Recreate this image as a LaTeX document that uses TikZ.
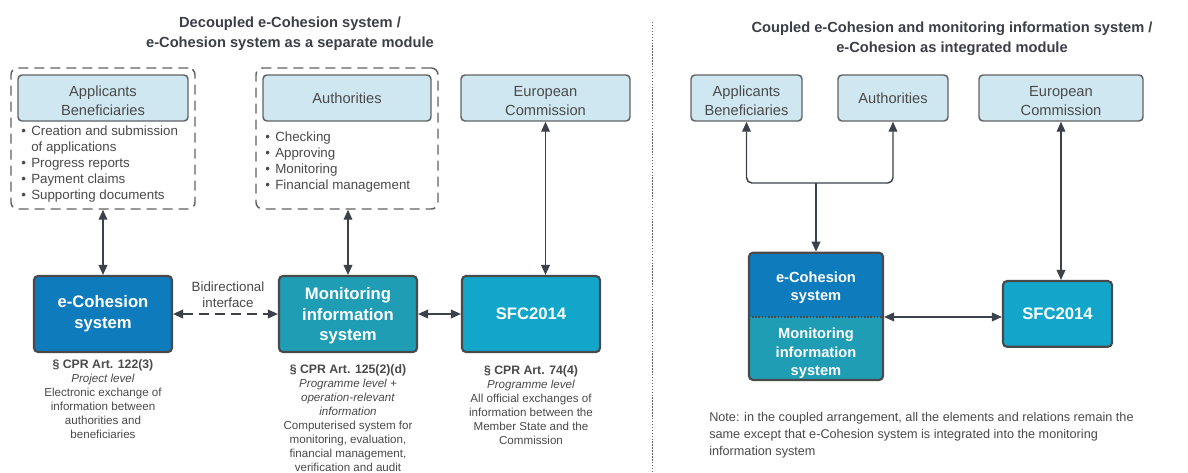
\documentclass[tikz,border=0pt]{standalone}
\usepackage{fontspec}
\setmainfont{Liberation Sans}
\usetikzlibrary{arrows.meta,fit,positioning}

\definecolor{txtgray}{HTML}{4A4A4A}
\definecolor{titlegray}{HTML}{3A3F48}
\definecolor{lineg}{HTML}{626262}
\definecolor{darkline}{HTML}{4A4A4A}
\definecolor{lightblue}{HTML}{CFE7F0}
\definecolor{ecohblue}{HTML}{0E7BBD}
\definecolor{monteal}{HTML}{1F9DB5}
\definecolor{sfcblue}{HTML}{12A6CB}
\definecolor{arrowg}{HTML}{3B424C}

\newcommand{\boxstrut}[1]{\rule{0pt}{#1}}

\tikzset{
	actor/.style={draw=lineg,fill=lightblue,line width=1.1pt,rounded corners=3pt,inner sep=0pt,minimum height=34.5pt,align=center,text=txtgray,font=\fontsize{11}{14}\selectfont},
	sysbox/.style={draw=darkline,line width=1.6pt,rounded corners=3pt,inner sep=0pt,minimum width=103.5pt,minimum height=57pt,align=center,text=white,font=\bfseries\fontsize{12.5}{15.5}\selectfont},
	part/.style={inner sep=0pt,minimum width=100.5pt,align=center,text=white,font=\bfseries\fontsize{11}{13.8}\selectfont},
	group/.style={draw=lineg,line width=1.1pt,dash pattern=on 7.5pt off 4.5pt,rounded corners=5pt,inner sep=0pt},
	link/.style={draw=arrowg,line width=1.1pt,{Triangle[length=7.5pt,width=6.5pt]}-{Triangle[length=7.5pt,width=6.5pt]}},
	legal/.style={align=center,text=txtgray,font=\fontsize{8.7}{10.5}\selectfont,inner sep=0pt},
	heading/.style={align=center,text=titlegray,font=\bfseries\fontsize{11}{15}\selectfont,inner sep=0pt},
	tasks/.style={anchor=west,align=left,text=txtgray,font=\fontsize{10}{12}\selectfont,inner sep=0pt}
}

\begin{document}
\begin{tikzpicture}[x=0.75pt,y=-0.75pt]
	\fill[white] (0,0) rectangle (1188,472);
	\useasboundingbox (0,0) rectangle (1188,472);

	%HEADINGS
	\node[heading] (headL) at (290,34) {Decoupled e-Cohesion system /\\e-Cohesion system as a separate module};
	\node[heading] (headR) at (952,39) {Coupled e-Cohesion and monitoring information system /\\e-Cohesion as integrated module};

	%SEPARATOR
	\draw[lineg,line width=1.1pt,dash pattern=on 1.1pt off 1.1pt] (652.7,22)--(652.7,472);

	%LEFT: ACTORS
	\node[actor,minimum width=127.5pt] (appL) at (103,98) {\boxstrut{12.5pt}Applicants\\Beneficiaries};
	\node[tasks] (appTasks) at (21,164) {\begin{tabular}{@{}l@{\hspace{4pt}}l@{}}
		\textbullet & Creation and submission\\
		 & of applications\\
		\textbullet & Progress reports\\
		\textbullet & Payment claims\\
		\textbullet & Supporting documents
	\end{tabular}};
	\node[group,fit={(11,68) (195,209)}] (grpApp) {};
	%
	\node[actor,minimum width=126pt] (authL) at (347,98) {Authorities};
	\node[tasks] (authTasks) at (265,162) {\begin{tabular}{@{}l@{\hspace{4pt}}l@{}}
		\textbullet & Checking\\
		\textbullet & Approving\\
		\textbullet & Monitoring\\
		\textbullet & Financial management
	\end{tabular}};
	\node[group,fit={(256,68) (438,209)}] (grpAuth) {};
	%
	\node[actor,minimum width=126.75pt] (ecL) at (545.5,98) {\boxstrut{12.5pt}European\\Commission};

	%LEFT: SYSTEMS
	\node[sysbox,fill=ecohblue] (ecoh) at (103,314) {e-Cohesion\\system};
	\node[sysbox,fill=monteal] (mon) at (348,314) {\boxstrut{12pt}Monitoring\\information\\system};
	\node[sysbox,fill=sfcblue] (sfc) at (531,314) {SFC2014};

	%LEFT: CONNECTORS
	\draw[link] (ecoh.north)--(ecoh.north |- grpApp.south);
	\draw[link] (mon.north)--(mon.north |- grpAuth.south);
	\draw[link] (ecL.south)--(ecL.south |- sfc.north);
	\draw[link,dash pattern=on 7.5pt off 4.5pt] (ecoh.east)--(mon.west);
	\node[align=center,text=txtgray,font=\fontsize{10}{12}\selectfont,inner sep=0pt] (bidir) at (228,295) {Bidirectional\\interface};
	\draw[link] (mon.east)--(sfc.west);

	%LEFT: LEGAL BASIS
	\node[legal] (ecohTxt) at (103,399) {\textbf{\fontsize{9.2}{10.5}\selectfont § CPR Art. 122(3)}\\\textit{Project level}\\Electronic exchange of\\information between\\authorities and\\beneficiaries};
	\node[legal] (monTxt) at (348,418) {\textbf{\fontsize{9.2}{10.5}\selectfont § CPR Art. 125(2)(d)}\\\textit{Programme level +}\\\textit{operation-relevant}\\\textit{information}\\Computerised system for\\monitoring, evaluation,\\financial management,\\verification and audit};
	\node[legal] (sfcTxt) at (531,405) {\textbf{\fontsize{9.2}{10.5}\selectfont § CPR Art. 74(4)}\\\textit{Programme level}\\All official exchanges of\\information between the\\Member State and the\\Commission};

	%RIGHT: ACTORS
	\node[actor,minimum width=83.25pt] (appR) at (746.5,98) {\boxstrut{12.5pt}Applicants\\Beneficiaries};
	\node[actor,minimum width=82.5pt] (authR) at (893,98) {Authorities};
	\node[actor,minimum width=123pt] (ecR) at (1061,98) {\boxstrut{12.5pt}European\\Commission};

	%RIGHT: COUPLED SYSTEM
	\begin{scope}
	\clip[rounded corners=3pt] (749,252.7) rectangle (883,380);
	\node[part,fill=ecohblue,minimum height=48pt] (ecohR) at (816,284.7) {\boxstrut{12.5pt}e-Cohesion\\system};
	\node[part,fill=monteal,minimum height=47.5pt] (monR) at (816,348.4) {\boxstrut{15.5pt}Monitoring\\information\\system};
	\end{scope}
	\node[draw=darkline,line width=1.6pt,rounded corners=3pt,inner sep=0pt,fit={(749,252.7) (883,380)}] (coupled) {};
	\draw[darkline,line width=1.1pt,dash pattern=on 1.2pt off 1.2pt] (ecohR.south west)--(ecohR.south east);
	\node[sysbox,fill=sfcblue,minimum width=81.75pt,minimum height=49.3pt] (sfcR) at (1057.5,313.9) {SFC2014};

	%RIGHT: CONNECTORS
	\coordinate (jn) at (816,183);
	\draw[link,rounded corners=4pt] (appR.south) |- (jn) -| (authR.south);
	\draw[draw=arrowg,line width=1.1pt,-{Triangle[length=7.5pt,width=6.5pt]}] (jn)--(coupled.north);
	\draw[link] (ecR.south)--(ecR.south |- sfcR.north);
	\draw[link] (coupled.east |- ecohR.south)--(sfcR.west |- ecohR.south);

	%NOTE
	\node[anchor=west,align=left,text=txtgray,font=\fontsize{9.5}{12.75}\selectfont,inner sep=0pt] (note) at (709,435) {Note: in the coupled arrangement, all the elements and relations remain the\\same except that e-Cohesion system is integrated into the monitoring\\information system};
\end{tikzpicture}
\end{document}
